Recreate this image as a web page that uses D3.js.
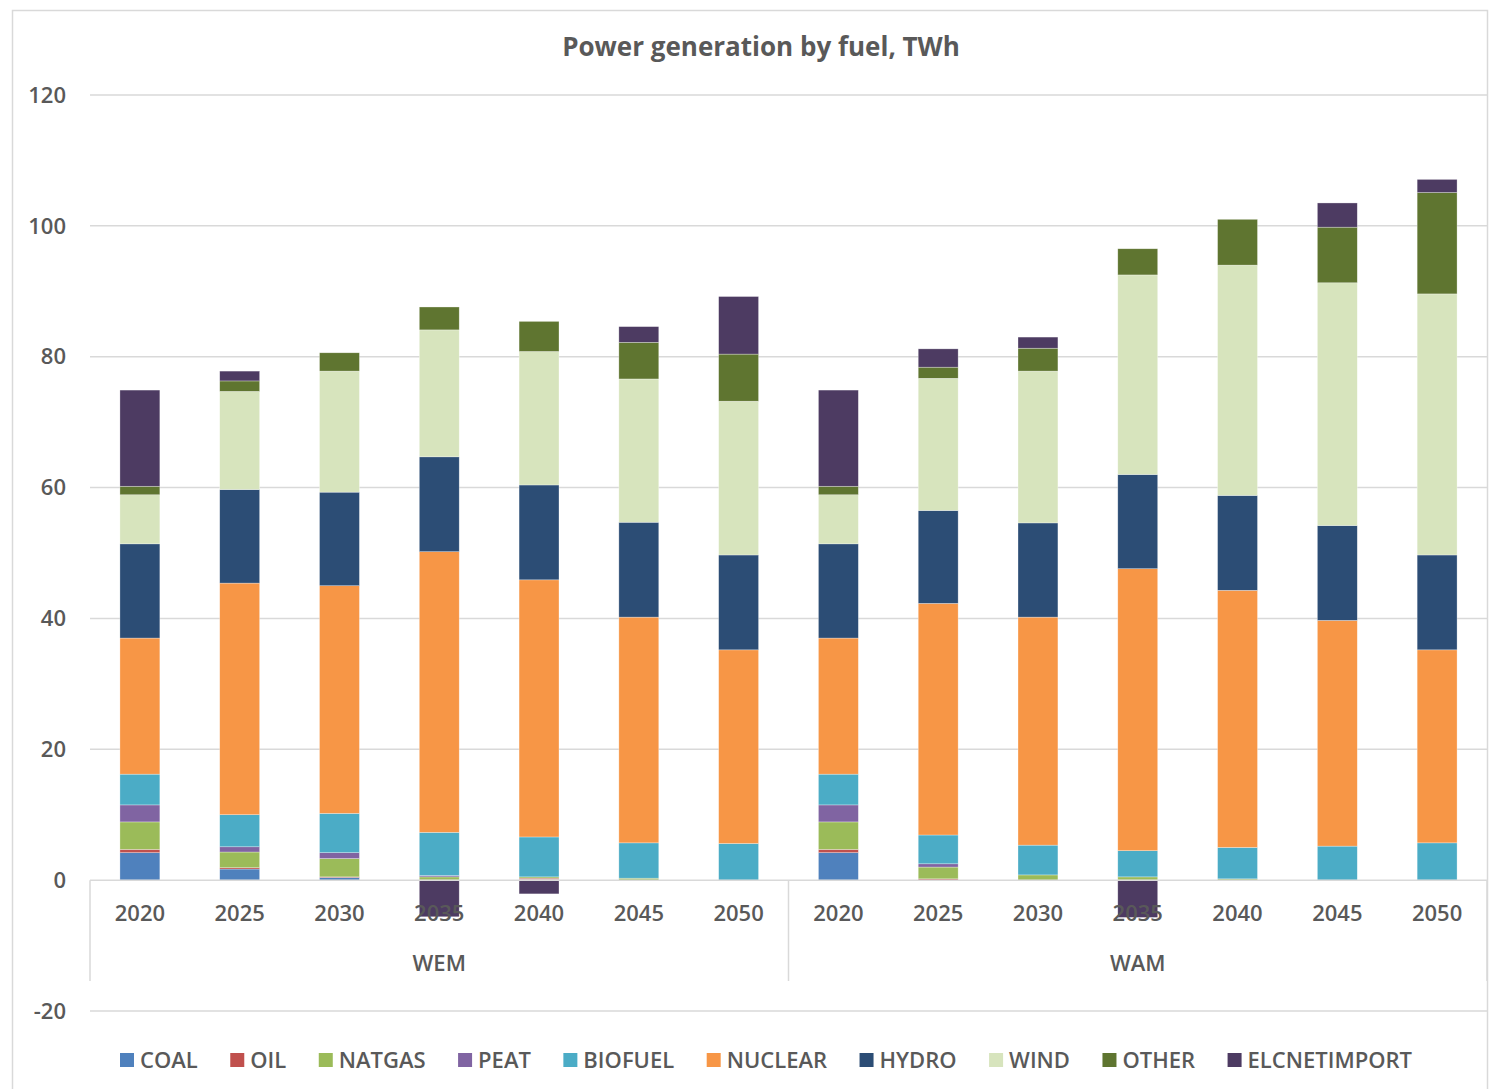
<!DOCTYPE html>
<html>
<head>
<meta charset="utf-8">
<script src="https://cdn.jsdelivr.net/npm/d3@7"></script>
<style>
  body { margin: 0; background: #fff; }
  text { font-family: "Open Sans", "Noto Sans", sans-serif; fill: #595959; }
</style>
</head>
<body>
<div id="chart"></div>
<script>
var years = ["2020", "2025", "2030", "2035", "2040", "2045", "2050"];
var scenarios = ["WEM", "WAM"];
var fuels = ["COAL", "OIL", "NATGAS", "PEAT", "BIOFUEL", "NUCLEAR", "HYDRO", "WIND", "OTHER", "ELCNETIMPORT"];
var colors = ["#4f81bd", "#c0504d", "#9bbb59", "#8064a2", "#4bacc6", "#f79646", "#2c4d75", "#d7e4bd", "#5f7530", "#4d3b62"];
var yTicks = [-20, 0, 20, 40, 60, 80, 100, 120];

// WEM 2020..2050 then WAM 2020..2050
var coal    = [4.2, 1.7, 0.4, 0, 0.1, 0, 0,      4.2, 0, 0, 0, 0, 0, 0];
var oil     = [0.5, 0.2, 0.1, 0, 0.2, 0, 0,      0.5, 0.2, 0, 0, 0, 0, 0];
var natgas  = [4.2, 2.4, 2.8, 0.5, 0.2, 0.3, 0,  4.2, 1.8, 0.8, 0.5, 0.2, 0, 0];
var peat    = [2.6, 0.8, 0.9, 0.2, 0, 0, 0,      2.6, 0.5, 0, 0, 0, 0, 0];
var biofuel = [4.7, 4.9, 6.0, 6.6, 6.1, 5.4, 5.6,     4.7, 4.4, 4.55, 4.0, 4.8, 5.2, 5.7];
var nuclear = [20.8, 35.4, 34.8, 42.9, 39.3, 34.5, 29.6,  20.8, 35.4, 34.85, 43.1, 39.3, 34.5, 29.5];
var hydro   = [14.4, 14.3, 14.3, 14.5, 14.5, 14.5, 14.5,  14.4, 14.2, 14.4, 14.4, 14.5, 14.5, 14.5];
var wind    = [7.5, 15.0, 18.5, 19.4, 20.4, 21.9, 23.5,   7.5, 20.2, 23.2, 30.5, 35.2, 37.1, 39.9];
var other   = [1.3, 1.6, 2.8, 3.5, 4.6, 5.6, 7.2,     1.3, 1.7, 3.5, 4.0, 7.0, 8.5, 15.5];
var elcnetimport = [14.7, 1.5, 0, -5.6, -2.1, 2.4, 8.8,   14.7, 2.8, 1.7, -5.7, 0, 3.7, 2.0];

var series = [coal, oil, natgas, peat, biofuel, nuclear, hydro, wind, other, elcnetimport];

var width = 1493, height = 1089;
var left = 90, right = 1487;

var rows = [];
scenarios.forEach(function (s, si) {
  years.forEach(function (y, yi) {
    var i = si * years.length + yi;
    var row = { key: s + y, scen: s, year: y };
    fuels.forEach(function (f, fi) { row[f] = series[fi][i]; });
    rows.push(row);
  });
});

var svg = d3.select("#chart").append("svg")
  .attr("width", width)
  .attr("height", height);

svg.append("rect")
  .attr("x", 12.5).attr("y", 10.5)
  .attr("width", right - 12).attr("height", height)
  .attr("fill", "none").attr("stroke", "#d9d9d9").attr("stroke-width", 1.5);

var x = d3.scaleBand()
  .domain(rows.map(function (d) { return d.key; }))
  .range([left, right])
  .paddingInner(0.6)
  .paddingOuter(0.3);

var y = d3.scaleLinear().domain([-20, 120]).range([1011, 95]);

var color = d3.scaleOrdinal().domain(fuels).range(colors);

// gridlines
svg.append("g").selectAll("line")
  .data(yTicks.filter(function (t) { return t !== 0; }))
  .enter().append("line")
  .attr("x1", left).attr("x2", right)
  .attr("y1", function (d) { return y(d); })
  .attr("y2", function (d) { return y(d); })
  .attr("stroke", "#d9d9d9").attr("stroke-width", 1.5);

svg.append("g").selectAll("text")
  .data(yTicks)
  .enter().append("text")
  .attr("x", 66)
  .attr("y", function (d) { return y(d); })
  .attr("dy", "0.35em")
  .attr("text-anchor", "end")
  .style("font-size", "22px")
  .style("font-weight", "600")
  .text(function (d) { return d; });

// bars
var stack = d3.stack().keys(fuels).offset(d3.stackOffsetDiverging);
var layers = stack(rows);

svg.append("g").selectAll("g")
  .data(layers)
  .enter().append("g")
  .attr("fill", function (d) { return color(d.key); })
  .selectAll("rect")
  .data(function (d) { return d; })
  .enter().append("rect")
  .attr("x", function (d) { return x(d.data.key); })
  .attr("width", x.bandwidth())
  .attr("y", function (d) { return y(Math.max(d[0], d[1])); })
  .attr("height", function (d) { return Math.abs(y(d[0]) - y(d[1])); })
  .attr("stroke", "#ffffff")
  .attr("stroke-opacity", 0.5)
  .attr("stroke-width", 0.6);

// category axis
var zeroY = y(0);
svg.append("line")
  .attr("x1", left).attr("x2", right)
  .attr("y1", zeroY).attr("y2", zeroY)
  .attr("stroke", "#d9d9d9").attr("stroke-width", 1.5);

var seps = [left, (left + right) / 2, right];
svg.append("g").selectAll("line")
  .data(seps)
  .enter().append("line")
  .attr("x1", function (d) { return d; }).attr("x2", function (d) { return d; })
  .attr("y1", zeroY).attr("y2", 981)
  .attr("stroke", "#d9d9d9").attr("stroke-width", 1.5);

svg.append("g").selectAll("text")
  .data(rows)
  .enter().append("text")
  .attr("x", function (d) { return x(d.key) + x.bandwidth() / 2; })
  .attr("y", 921)
  .attr("text-anchor", "middle")
  .style("font-size", "22px")
  .style("font-weight", "600")
  .text(function (d) { return d.year; });

svg.append("g").selectAll("text")
  .data(scenarios)
  .enter().append("text")
  .attr("x", function (d, i) { return left + (right - left) / 4 * (2 * i + 1); })
  .attr("y", 971)
  .attr("text-anchor", "middle")
  .style("font-size", "22px")
  .style("font-weight", "600")
  .text(function (d) { return d; });

// title
svg.append("text")
  .attr("x", 761).attr("y", 56)
  .attr("text-anchor", "middle")
  .style("font-size", "26px")
  .style("font-weight", "bold")
  .text("Power generation by fuel, TWh");

// legend, spread between the first swatch and the end of the last label
var legend = svg.append("g").attr("transform", "translate(0,1060)");
var items = fuels.map(function (f, i) {
  var item = legend.append("g");
  item.append("rect")
    .attr("x", 0).attr("y", -7)
    .attr("width", 14).attr("height", 14)
    .attr("fill", colors[i]);
  var t = item.append("text")
    .attr("x", 20).attr("y", 0)
    .attr("dy", "0.35em")
    .style("font-size", "22px")
    .style("font-weight", "600")
    .text(f);
  return { g: item, w: 20 + t.node().getComputedTextLength() };
});
var total = d3.sum(items, function (d) { return d.w; });
var gap = (1412 - 120 - total) / (items.length - 1);
var lx = 120;
items.forEach(function (d) {
  d.g.attr("transform", "translate(" + lx + ",0)");
  lx += d.w + gap;
});
</script>
</body>
</html>
